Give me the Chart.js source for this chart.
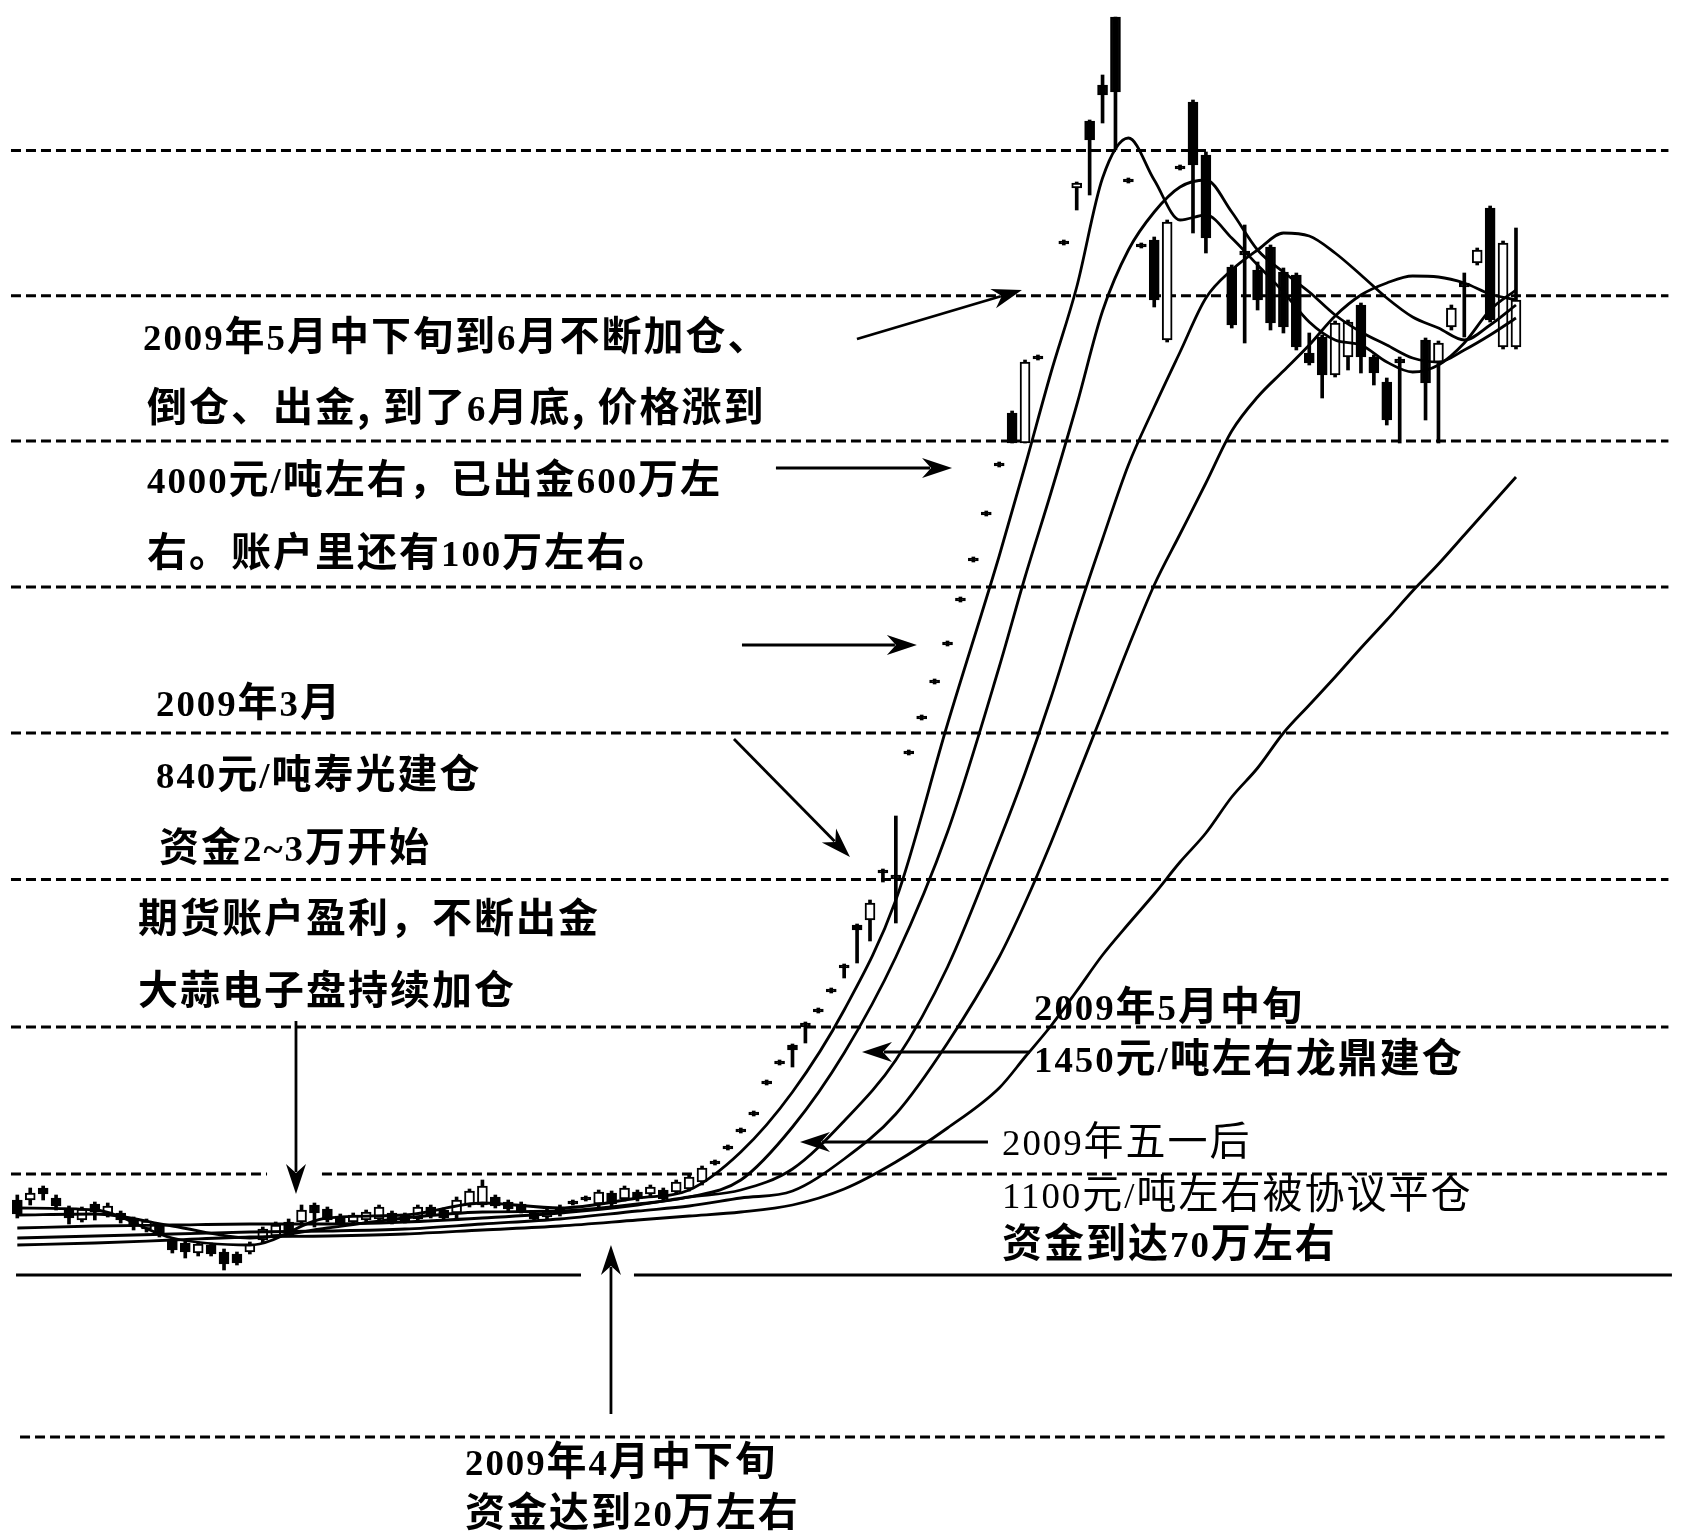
<!DOCTYPE html>
<html><head><meta charset="utf-8">
<script src="https://cdn.jsdelivr.net/npm/chart.js@4.4.1/dist/chart.umd.min.js"></script>
<style>
html,body{margin:0;padding:0;background:#fff;}
#wrap{position:relative;width:1686px;height:1532px;overflow:hidden;background:#fff;}
#c{position:absolute;left:0;top:0;}
.t{position:absolute;white-space:nowrap;font-family:"Noto Sans CJK SC",sans-serif;font-size:40px;line-height:40px;letter-spacing:2px;color:#000;font-weight:400;}
.t .n{font-family:"Liberation Serif",serif;font-size:0.92em;}
.b{font-weight:700;}
</style></head>
<body><div id="wrap"><canvas id="c" width="1686" height="1532"></canvas></div>
<script>
// ---------- candle data (index = trading day) ----------
const openP  = [332,332,344,334,324,312,328,317,319,313,303,306,292,289,279,287,280,278,280,292,
                296,310,310,327,323,316,310,312,313,319,317,313,325,322,319,327,327,335,330,328,
                319,315,324,331,335,328,339,333,340,338,342,340,343,350,371,386,403,420,451,471,
                487,509,523,543,567,607,612,662,657,781,816,852,890,934,974,1020,1069,1119,1089,1176,
                null,1291,1344,1411,1447,1515,1353,1288,1292,1192,1366,1430,1377,null,1265,1281,1262,1285,1260,1257,
                1179,1195,1157,1175,1227,1175,1150,1173,null,1192,1169,1205,1249,1269,1324,1185,1185];
const closeP = [318,339,338,326,314,323,320,326,312,306,311,298,282,280,288,278,268,269,288,303,
                307,300,322,319,312,309,317,320,325,310,311,325,316,314,332,341,346,326,323,321,
                313,321,318,328,332,340,328,344,333,345,333,350,355,364,368,383,400,417,448,468,
                482,505,520,540,564,602,629,659,653,778,813,849,887,931,971,1017,1066,1089,1170,1173,
                null,1288,1349,1392,1437,1440,1350,1285,1232,1310,1363,1367,1294,null,1207,1277,1232,1209,1205,1185,
                1169,1157,1209,1210,1175,1159,1112,1169,null,1149,1189,1224,1245,1282,1212,1289,1232];
const highP  = [337,344,346,337,326,325,330,329,321,315,313,308,294,292,290,289,283,280,290,305,
                310,313,327,329,325,318,319,322,327,321,319,327,327,324,335,343,352,337,332,330,
                321,323,327,332,336,342,341,346,342,347,344,352,357,366,372,387,404,421,452,472,
                488,510,524,544,568,608,632,663,716,782,817,853,891,935,975,1021,1070,1121,1172,1177,
                null,1292,1350,1412,1457,1515,1354,1289,1295,1312,1367,1432,1380,null,1267,1307,1270,1287,1264,1259,
                1199,1197,1211,1212,1229,1177,1154,1175,null,1194,1191,1227,1259,1284,1326,1291,1304];
const lowP   = [314,327,332,322,308,310,312,315,309,302,300,295,279,274,276,276,262,267,278,289,
                294,298,307,305,310,307,308,310,311,308,309,311,314,312,312,325,325,324,321,319,
                311,313,316,327,331,325,326,331,331,336,331,338,341,347,367,382,399,416,447,467,
                465,489,519,539,554,569,591,650,609,777,812,848,886,930,970,1016,1065,1089,1089,1172,
                null,1287,1322,1337,1409,1382,1349,1284,1225,1190,1362,1299,1279,null,1204,1189,1222,1202,1199,1182,
                1167,1134,1155,1162,1159,1147,1107,1089,null,1112,1089,1202,1195,1267,1210,1183,1183];

// ---------- moving averages, read at these day indices ----------
const maDays = [0,6,12,18,24,30,36,42,48,52,56,60,64,68,72,76,78,80,82,84,86,88,90,92,94,96,98,100,102,104,106,108,110,112,114,116];
const ma5  = [324,322,294,287,314,317,329,324,334,342,380,440,522,632,808,976,1066,1159,1245,1354,1394,1352,1312,1317,1294,1267,1240,1210,1192,1187,1170,1160,1167,1189,1222,1242];
const ma10 = [317,318,306,294,304,314,320,321,328,335,352,405,479,575,700,865,955,1039,1127,1221,1282,1320,1345,1352,1320,1282,1260,1240,1217,1200,1187,1174,1170,1182,1197,1214];
const ma20 = [304,306,307,308,308,310,314,319,327,335,342,363,411,472,565,691,759,834,916,993,1067,1125,1180,1234,1262,1282,1299,1296,1279,1257,1234,1215,1204,1192,1207,1227];
const ma30 = [294,296,298,300,301,303,308,313,321,326,334,341,373,418,489,575,629,689,754,819,885,947,998,1049,1101,1135,1161,1187,1216,1237,1249,1256,1255,1249,1238,1232];
const ma60 = [287,289,292,295,296,298,302,306,312,316,320,327,343,370,404,444,475,506,541,577,608,638,670,699,735,764,799,827,855,884,912,941,968,997,1026,1055];

// ---------- horizontal reference levels ----------
const dashedLevels = [1381.5,1236.3,1091,945,799,652.4,505];
const gapLevel = 358;       // dashed, broken by the downward arrow
const solidLevel = 257;     // solid base line, broken by the upward arrow
const bottomLevel = 95;     // lowest dashed line

// ---------- arrows: [fromDay, fromValue, toDay, toValue] ----------
const arrows = [
  [64.99,1193,77.76,1242],
  [58.72,1064,72.35,1064],
  [56.09,887,69.63,887],
  [55.47,793,64.45,675],
  [21.57,511,21.57,338],
  [45.95,118,45.95,287],
  [78.38,480,65.38,480],
  [75.13,390,60.58,390]
];

// ---------- text notes ----------
const notes = [
  ["2009年5月中下旬到6月不断加仓、",143,335,1],
  ["倒仓、出金, 到了6月底, 价格涨到",147,406,1],
  ["4000元/吨左右，已出金600万左",147,478,1],
  ["右。账户里还有100万左右。",147,551,1],
  ["2009年3月",156,701,1],
  ["840元/吨寿光建仓",156,773,1],
  ["资金2~3万开始",159,846,1],
  ["期货账户盈利，不断出金",138,917,1],
  ["大蒜电子盘持续加仓",138,989,1],
  ["2009年5月中旬",1034,1005,1],
  ["1450元/吨左右龙鼎建仓",1034,1057,1],
  ["2009年五一后",1002,1140,0],
  ["1100元/吨左右被协议平仓",1002,1193,0],
  ["资金到达70万左右",1002,1242,1],
  ["2009年4月中下旬",465,1460,1],
  ["资金达到20万左右",465,1511,1]
];

const X0 = -0.49, X1 = 127.8;
const bodies = [], wicks = [];
openP.forEach((o,i)=>{
  if(o==null) return;
  bodies.push({x:i, y:[o, closeP[i]]});
  wicks.push({x:i, y:[lowP[i], highP[i]]});
});
const maSet = (vals)=> maDays.map((d,k)=>({x:d, y:vals[k]}));
const hline = (v, x0, x1, dash, w)=>({
  type:'line', data:[{x:x0,y:v},{x:x1,y:v}], borderColor:'#000', borderWidth:w,
  borderDash:dash, pointRadius:0, order:10, borderCapStyle:'butt'
});

const datasets = [];
dashedLevels.forEach(v=>datasets.push(hline(v,X0,X1,[10,5],3)));
datasets.push(hline(gapLevel,X0,19.33,[10,5],3));
datasets.push(hline(gapLevel,23.58,X1,[10,5],3));
datasets.push(hline(solidLevel,-0.10,43.63,[],3));
datasets.push(hline(solidLevel,47.73,128.07,[],3));
datasets.push(hline(bottomLevel,0.21,127.5,[10,5],3));

datasets.push({type:'bar', data:wicks, backgroundColor:'#000', borderWidth:0, barThickness:3, grouped:false, order:4});
datasets.push({type:'bar', data:bodies, grouped:false, order:3, barThickness:10,
  backgroundColor:(c)=>{const r=c.raw; return (r && r.y[1]>r.y[0]) ? '#fff' : '#000';},
  borderColor:'#000', borderWidth:2, borderSkipped:false});
[ma5,ma10,ma20,ma30,ma60].forEach(m=>datasets.push({
  type:'line', data:maSet(m), borderColor:'#000', borderWidth:2.8, pointRadius:0,
  cubicInterpolationMode:'monotone', order:1
}));

const arrowPlugin = {
  id:'arrows',
  afterDatasetsDraw(chart){
    const {ctx, scales:{x,y}} = chart;
    ctx.save();
    ctx.strokeStyle='#000'; ctx.fillStyle='#000'; ctx.lineWidth=2.8; ctx.setLineDash([]);
    arrows.forEach(a=>{
      const x0=x.getPixelForValue(a[0]), y0=y.getPixelForValue(a[1]);
      const x1=x.getPixelForValue(a[2]), y1=y.getPixelForValue(a[3]);
      const ang=Math.atan2(y1-y0,x1-x0), L=30, W=10;
      const c=Math.cos(ang), s=Math.sin(ang);
      const bx=x1-L*c, by=y1-L*s;
      ctx.beginPath(); ctx.moveTo(x0,y0); ctx.lineTo(bx+8*c, by+8*s); ctx.stroke();
      ctx.beginPath(); ctx.moveTo(x1,y1);
      ctx.lineTo(bx - W*s, by + W*c);
      ctx.lineTo(bx + 9*c, by + 9*s);
      ctx.lineTo(bx + W*s, by - W*c);
      ctx.closePath(); ctx.fill();
    });
    ctx.restore();
  }
};

new Chart(document.getElementById('c'), {
  data:{datasets},
  options:{
    responsive:false, animation:false, devicePixelRatio:1,
    layout:{padding:0},
    scales:{
      x:{type:'linear', min:-1.34, max:129.16, display:false, offset:false, bounds:'data'},
      y:{type:'linear', min:0, max:1532, display:false}
    },
    plugins:{legend:{display:false}, tooltip:{enabled:false}},
    events:[]
  },
  plugins:[arrowPlugin]
});

const wrap = document.getElementById('wrap');
notes.forEach(([txt,left,cy,bold])=>{
  const d=document.createElement('div');
  d.className='t'+(bold?' b':'');
  d.style.left=left+'px';
  d.style.top=(cy-22)+'px';
  d.innerHTML=txt.replace(/([0-9~\/]+)/g,'<span class="n">$1</span>');
  wrap.appendChild(d);
});
</script>
</body></html>
